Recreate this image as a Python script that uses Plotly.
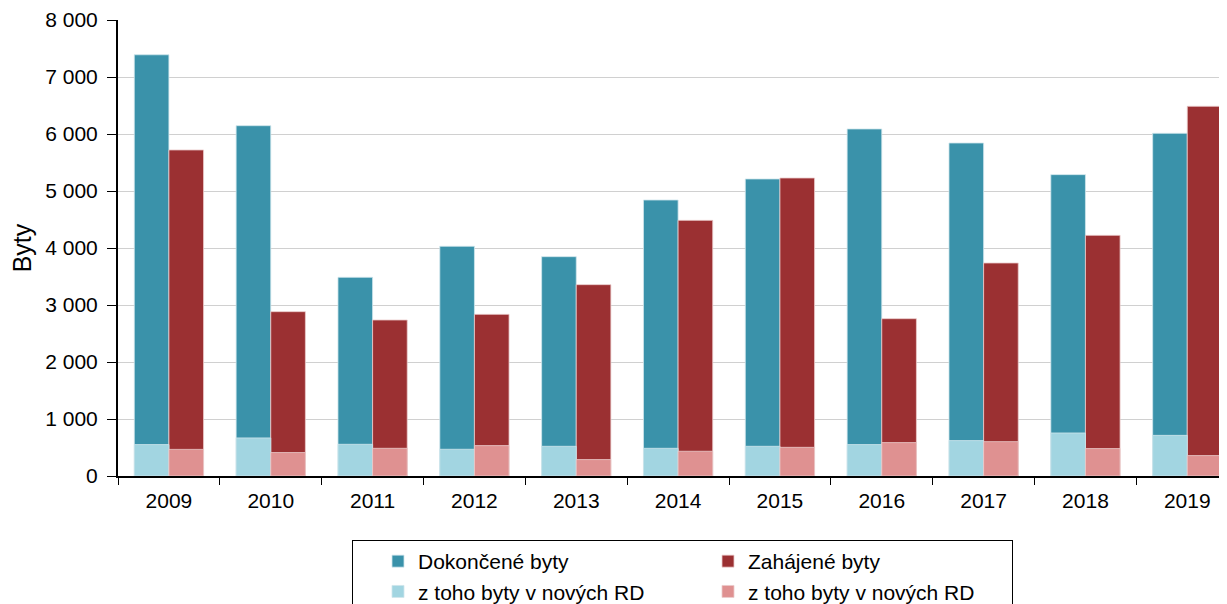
import plotly.graph_objects as go

years = ["2009", "2010", "2011", "2012", "2013", "2014", "2015", "2016", "2017", "2018", "2019"]
dokoncene = [7390, 6146, 3486, 4030, 3848, 4842, 5211, 6088, 5842, 5287, 6012]
zahajene = [5720, 2883, 2737, 2836, 3357, 4485, 5228, 2760, 3737, 4222, 6486]
dok_rd = [551, 668, 556, 469, 521, 486, 521, 551, 621, 755, 713]
zah_rd = [467, 411, 486, 533, 288, 434, 503, 586, 603, 481, 358]

C_DOK = "#3A92AA"
C_ZAH = "#9B3032"
C_DOK_RD = "#A2D5E1"
C_ZAH_RD = "#DF9191"

# the page body adds an 8px offset; figure is sized to fill the rest of the window
FW, FH = 1219, 596

W = 0.34
fig = go.Figure()
fig.add_trace(go.Bar(x=years, y=dokoncene, name="Dokončené byty", legendgroup="dok",
                     marker=dict(color=C_DOK, line=dict(color="#CFE6EC", width=0.8)), width=W, offset=-W))
fig.add_trace(go.Bar(x=years, y=zahajene, name="Zahájené byty", legendgroup="zah",
                     marker=dict(color=C_ZAH, line=dict(color="#EBCBCB", width=0.8)), width=W, offset=0))
fig.add_trace(go.Bar(x=years, y=dok_rd, name="z toho byty v nových RD", legendgroup="dok",
                     marker=dict(color=C_DOK_RD, line=dict(color="#CFE6EC", width=0.8)), width=W, offset=-W))
fig.add_trace(go.Bar(x=years, y=zah_rd, name="z toho byty v nových RD", legendgroup="zah",
                     marker=dict(color=C_ZAH_RD, line=dict(color="#EBCBCB", width=0.8)), width=W, offset=0))

fig.update_layout(
    barmode="overlay",
    width=FW, height=FH,
    margin=dict(l=110, r=0, t=12, b=128),
    paper_bgcolor="white", plot_bgcolor="white",
    font=dict(family="Liberation Sans, Arial, sans-serif", size=21, color="black"),
    separators=", ",
    showlegend=True,
    legend=dict(
        orientation="h", xref="container", yref="container",
        x=344 / FW, y=(FH - 532) / FH, xanchor="left", yanchor="top",
        bordercolor="black", borderwidth=1, entrywidth=259, entrywidthmode="pixels",
        indentation=26, tracegroupgap=3,
        font=dict(size=21), traceorder="grouped", itemclick=False, groupclick="toggleitem",
    ),
)
fig.update_yaxes(
    range=[0, 8000], dtick=1000, tickformat=",d",
    showgrid=True, gridcolor="#D0D0D0", gridwidth=1,
    showline=True, linecolor="black", linewidth=2,
    ticks="outside", ticklen=9, tickcolor="black", ticklabelstandoff=5,
    title=dict(text="Byty", standoff=22), zeroline=False, automargin=False,
)
fig.update_xaxes(
    range=[-0.5, 10.39],
    showline=True, linecolor="black", linewidth=2,
    ticks="outside", ticklen=7, tickcolor="black", tickson="boundaries",
    ticklabelstandoff=5,
    showgrid=False, automargin=False,
)

fig.write_html("out.html")
